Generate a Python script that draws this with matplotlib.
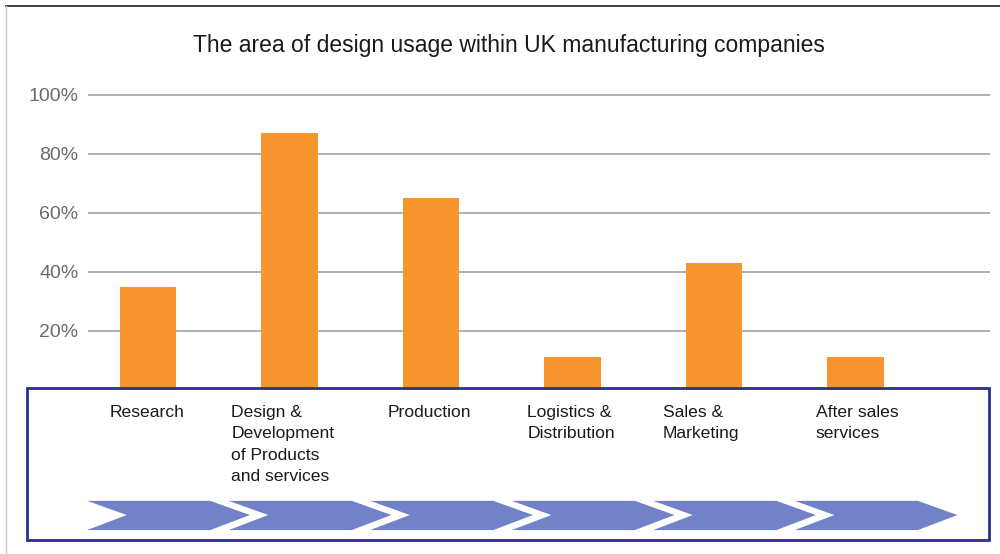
import matplotlib
matplotlib.use("Agg")
import matplotlib.pyplot as plt
from matplotlib.patches import Polygon, Rectangle
from matplotlib.lines import Line2D

plt.rcParams['font.family'] = ['Liberation Sans', 'DejaVu Sans']

# data
categories = ["Research", "Design &\nDevelopment\nof Products\nand services", "Production",
              "Logistics &\nDistribution", "Sales &\nMarketing", "After sales\nservices"]
usage_pct = [35, 87, 65, 11, 43, 11]
y_ticks = [20, 40, 60, 80, 100]
y_tick_labels = ["20%", "40%", "60%", "80%", "100%"]
title = "The area of design usage within UK manufacturing companies"

# layout (text offsets from bar centre, in category units)
label_dx = [-0.27, -0.41, -0.31, -0.32, -0.36, -0.28]

BAR_COLOR = '#f7962f'
BOX_COLOR = '#2e2f8e'
ARROW_COLOR = '#7282c8'

fig = plt.figure(figsize=(10, 5.54), dpi=100)
ax = fig.add_axes([0.088, 0.0235, 0.902, 0.8105])

x = list(range(len(categories)))
ax.bar(x, usage_pct, width=0.4, color=BAR_COLOR, zorder=2)

ax.set_xlim(-0.424, 5.95)
ax.set_ylim(-51.2, 101)
ax.set_yticks(y_ticks)
ax.set_yticklabels(y_tick_labels, fontsize=14, color='#6a6a6a')
ax.set_xticks([])
ax.tick_params(axis='y', length=0, pad=7)
ax.yaxis.grid(True, color='#9a9a9a', linewidth=1.1)
ax.set_axisbelow(True)
for s in ax.spines.values():
    s.set_visible(False)

# process box below the bars
box = Rectangle((-0.855, -50.8), 6.8, 51.4, fill=False, edgecolor=BOX_COLOR,
                linewidth=2, clip_on=False, zorder=3)
ax.add_patch(box)

# category labels
for i, (lab, dx) in enumerate(zip(categories, label_dx)):
    ax.text(i + dx, -5.0, lab, ha='left', va='top', fontsize=12.6,
            color='#1a1a1a', linespacing=1.55, zorder=4)

# chevrons
top, mid, bot = -37.6, -42.4, -47.5
d = 0.28
for i in x:
    a = i - 0.43
    b = i + 0.44
    pts = [(a, top), (b, top), (b + d, mid), (b, bot), (a, bot), (a + d, mid)]
    ax.add_patch(Polygon(pts, closed=True, facecolor=ARROW_COLOR, edgecolor='none',
                         clip_on=False, zorder=3))

fig.text(0.509, 0.918, title, ha='center', va='center', fontsize=16.5, color='#1a1a1a')

# outer frame
fig.add_artist(Line2D([0.006, 1.0], [0.989, 0.989], color='#222222', linewidth=1.2))
fig.add_artist(Line2D([0.006, 0.006], [0.0, 0.989], color='#c8c8c8', linewidth=1))

fig.savefig("out.png", dpi=100, facecolor='white')
